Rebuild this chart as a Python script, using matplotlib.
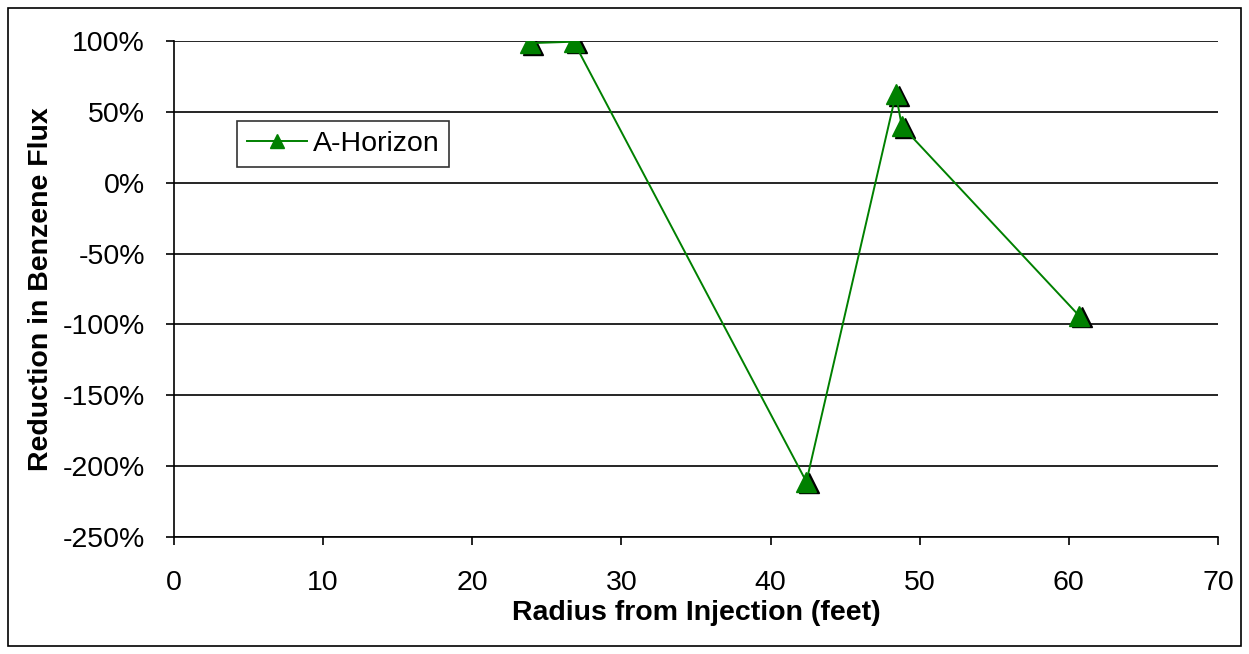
import matplotlib.pyplot as plt
import matplotlib.transforms as mtransforms
from matplotlib.patches import Rectangle

# Values
radius_ft = [23.9, 26.8, 42.4, 48.4, 48.8, 60.7]
reduction_pct = [98.5, 99.5, -211, 62.5, 40, -94]
series_name = 'A-Horizon'

x_ticks = [0, 10, 20, 30, 40, 50, 60, 70]
y_ticks = [-250, -200, -150, -100, -50, 0, 50, 100]

plt.rcParams['font.family'] = ['Liberation Sans', 'DejaVu Sans']

fig = plt.figure(figsize=(12.49, 6.54), dpi=100)
ax = fig.add_axes([174 / 1249, 1 - 537 / 654, (1218 - 174) / 1249, (537 - 41) / 654])

# Drop shadow for the markers
shadow = mtransforms.offset_copy(ax.transData, fig=fig, x=3, y=-1.5, units='dots')
ax.plot(radius_ft, reduction_pct, linestyle='none', marker='^', markersize=15,
        color='black', transform=shadow, zorder=3)
ax.plot(radius_ft, reduction_pct, color='#008000', linewidth=1.4, marker='^',
        markersize=15, markerfacecolor='#008000', markeredgecolor='#008000',
        label=series_name, zorder=4)

ax.set_xlim(0, 70)
ax.set_ylim(-250, 100)
ax.set_xticks(x_ticks)
ax.set_yticks(y_ticks)
ax.set_yticklabels([f'{v}%' for v in y_ticks])
ax.tick_params(labelsize=20.5, direction='out', length=6, width=1.2, color='black')
ax.tick_params(axis='x', pad=18)
ax.tick_params(axis='y', pad=15)

ax.grid(axis='y', color='black', linewidth=1.2)
ax.set_axisbelow(True)
for side in ['top', 'right']:
    ax.spines[side].set_visible(False)
for side in ['left', 'bottom']:
    ax.spines[side].set_linewidth(1.2)

ax.set_xlabel('Radius from Injection (feet)', fontsize=20.5, fontweight='bold', labelpad=3)
ax.set_ylabel('Reduction in Benzene Flux', fontsize=20.5, fontweight='bold', labelpad=6)

leg = ax.legend(loc='upper left', bbox_to_anchor=(63 / 1044, 1 - 80 / 496), fontsize=20.5,
                frameon=True, fancybox=False, edgecolor='black', handlelength=2.1,
                handletextpad=0.2, borderpad=0.35, borderaxespad=0, markerscale=0.7)
leg.get_frame().set_linewidth(1.2)

# Outer chart border
fig.patches.append(Rectangle((8 / 1249, 8 / 654), 1 - 16 / 1249, 1 - 16 / 654,
                             transform=fig.transFigure, fill=False,
                             edgecolor='black', linewidth=1.2))

fig.savefig('out.png', dpi=100)
